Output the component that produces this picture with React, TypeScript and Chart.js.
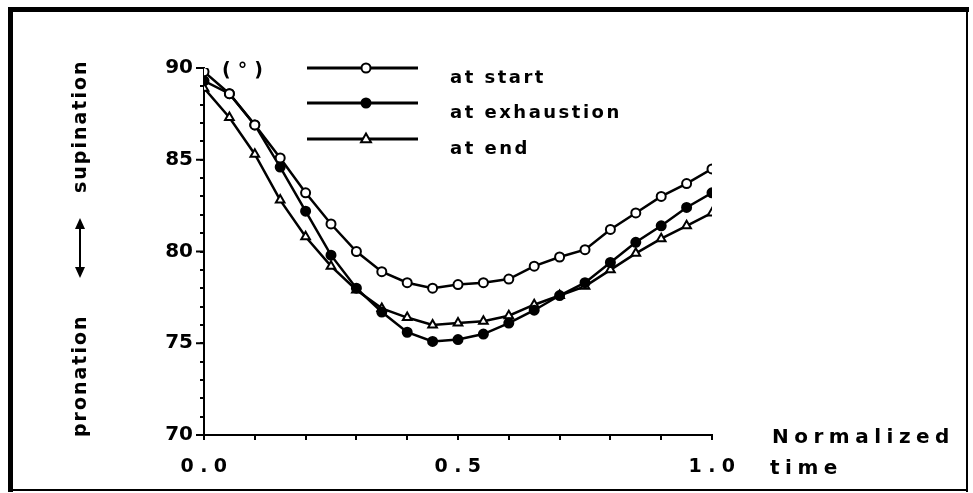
import React, { useEffect, useRef } from 'react';
import { Chart, registerables } from 'chart.js';

Chart.register(...registerables);

const times = [0, 0.05, 0.1, 0.15, 0.2, 0.25, 0.3, 0.35, 0.4, 0.45, 0.5, 0.55, 0.6, 0.65, 0.7, 0.75, 0.8, 0.85, 0.9, 0.95, 1.0];
const atStart = [89.8, 88.6, 86.9, 85.1, 83.2, 81.5, 80.0, 78.9, 78.3, 78.0, 78.2, 78.3, 78.5, 79.2, 79.7, 80.1, 81.2, 82.1, 83.0, 83.7, 84.5];
const atExhaustion = [89.3, 88.6, 86.9, 84.6, 82.2, 79.8, 78.0, 76.7, 75.6, 75.1, 75.2, 75.5, 76.1, 76.8, 77.6, 78.3, 79.4, 80.5, 81.4, 82.4, 83.2];
const atEnd = [88.9, 87.3, 85.3, 82.8, 80.8, 79.2, 77.9, 76.9, 76.4, 76.0, 76.1, 76.2, 76.5, 77.1, 77.6, 78.1, 79.0, 79.9, 80.7, 81.4, 82.1];

const seriesLabels = ['at start', 'at exhaustion', 'at end'];
const yMajorTicks = [70, 75, 80, 85, 90];
const xTickValues = [0, 0.5, 1.0];
const xTickLabels = ['0.0', '0.5', '1.0'];
const xTitleLines = ['Normalized', 'time'];
const yTitleParts = ['pronation', 'supination'];
const unitLabel = '(°)';

const FONT = '"DejaVu Sans", Arial, sans-serif';

function drawMarker(ctx: CanvasRenderingContext2D, style: string, x: number, y: number, r: number) {
  ctx.beginPath();
  if (style === 'triangle') {
    ctx.moveTo(x, y - r * 1.2);
    ctx.lineTo(x + r * 1.1, y + r * 0.7);
    ctx.lineTo(x - r * 1.1, y + r * 0.7);
    ctx.closePath();
    ctx.fillStyle = '#fff';
  } else {
    ctx.arc(x, y, r, 0, Math.PI * 2);
    ctx.fillStyle = style === 'filled' ? '#000' : '#fff';
  }
  ctx.fill();
  ctx.lineWidth = 2;
  ctx.strokeStyle = '#000';
  ctx.stroke();
}

const decoPlugin = {
  id: 'deco',
  afterDraw(chart: any) {
    const ctx: CanvasRenderingContext2D = chart.ctx;
    const xs = chart.scales.x;
    const ys = chart.scales.y;
    const area = chart.chartArea;
    ctx.save();
    // frame
    ctx.fillStyle = '#000';
    ctx.fillRect(8, 7, 5, 485);
    ctx.fillRect(8, 7, 961, 5);
    ctx.fillRect(966, 7, 2, 485);
    ctx.fillRect(8, 489, 960, 2);

    // longer major y ticks
    ctx.strokeStyle = '#000';
    ctx.lineWidth = 2;
    yMajorTicks.forEach((v) => {
      const py = ys.getPixelForValue(v);
      ctx.beginPath();
      ctx.moveTo(area.left - 8, py);
      ctx.lineTo(area.left, py);
      ctx.stroke();
    });

    // x tick labels
    ctx.fillStyle = '#000';
    ctx.font = `bold 19px ${FONT}`;
    (ctx as any).letterSpacing = '6.5px';
    ctx.textAlign = 'center';
    ctx.textBaseline = 'alphabetic';
    xTickValues.forEach((v, i) => {
      const px = xs.getPixelForValue(v);
      ctx.fillText(xTickLabels[i], px + 3, 472);
    });

    // x title
    ctx.textAlign = 'left';
    ctx.font = `bold 20px ${FONT}`;
    (ctx as any).letterSpacing = '5.5px';
    ctx.fillText(xTitleLines[0], 772, 443);
    ctx.fillText(xTitleLines[1], 770, 474);

    // unit label
    ctx.font = `bold 19px ${FONT}`;
    (ctx as any).letterSpacing = '7px';
    ctx.fillText(unitLabel, 222, 76);

    // y title (rotated)
    ctx.font = `bold 19px ${FONT}`;
    (ctx as any).letterSpacing = '2px';
    ctx.save();
    ctx.translate(86, 437);
    ctx.rotate(-Math.PI / 2);
    ctx.fillText(yTitleParts[0], 0, 0);
    ctx.restore();
    ctx.save();
    ctx.translate(86, 193);
    ctx.rotate(-Math.PI / 2);
    ctx.fillText(yTitleParts[1], 0, 0);
    ctx.restore();

    // double arrow
    ctx.lineWidth = 2;
    ctx.beginPath();
    ctx.moveTo(80, 224);
    ctx.lineTo(80, 272);
    ctx.stroke();
    ctx.beginPath();
    ctx.moveTo(80, 218);
    ctx.lineTo(75, 229);
    ctx.lineTo(85, 229);
    ctx.closePath();
    ctx.fill();
    ctx.beginPath();
    ctx.moveTo(80, 278);
    ctx.lineTo(75, 267);
    ctx.lineTo(85, 267);
    ctx.closePath();
    ctx.fill();

    // legend
    const rows = [68, 103, 139];
    const styles = ['open', 'filled', 'triangle'];
    rows.forEach((ry, i) => {
      ctx.strokeStyle = '#000';
      ctx.lineWidth = 3;
      ctx.beginPath();
      ctx.moveTo(307, ry);
      ctx.lineTo(418, ry);
      ctx.stroke();
      drawMarker(ctx, styles[i], 366, ry, 4.5);
      ctx.fillStyle = '#000';
      ctx.font = `bold 18px ${FONT}`;
      (ctx as any).letterSpacing = '2.5px';
      ctx.textAlign = 'left';
      ctx.fillText(seriesLabels[i], 450, ry + 15);
    });
    (ctx as any).letterSpacing = '0px';
    ctx.restore();
  },
};

export default function App() {
  const ref = useRef<HTMLCanvasElement>(null);
  useEffect(() => {
    if (!ref.current) return;
    const mk = (arr: number[]) => arr.map((y, i) => ({ x: times[i], y }));
    const chart = new Chart(ref.current, {
      type: 'line',
      data: {
        datasets: [
          {
            label: seriesLabels[0],
            data: mk(atStart),
            borderColor: '#000',
            borderWidth: 2.5,
            pointStyle: 'circle',
            pointRadius: 4.5,
            pointBorderWidth: 2,
            pointBackgroundColor: '#fff',
            pointBorderColor: '#000',
            tension: 0,
          },
          {
            label: seriesLabels[1],
            data: mk(atExhaustion),
            borderColor: '#000',
            borderWidth: 2.5,
            pointStyle: 'circle',
            pointRadius: 4.5,
            pointBorderWidth: 2,
            pointBackgroundColor: '#000',
            pointBorderColor: '#000',
            tension: 0,
          },
          {
            label: seriesLabels[2],
            data: mk(atEnd),
            borderColor: '#000',
            borderWidth: 2.5,
            pointStyle: 'triangle',
            pointRadius: 5,
            pointBorderWidth: 2,
            pointBackgroundColor: '#fff',
            pointBorderColor: '#000',
            tension: 0,
          },
        ],
      },
      options: {
        responsive: false,
        animation: false,
        devicePixelRatio: 1,
        layout: { padding: { top: 68, right: 261, left: 0, bottom: 0 } },
        plugins: { legend: { display: false }, tooltip: { enabled: false } },
        scales: {
          x: {
            type: 'linear',
            min: 0,
            max: 1,
            afterFit: (s: any) => {
              s.height = 58;
            },
            ticks: { display: false, stepSize: 0.1 },
            grid: { drawOnChartArea: false, drawTicks: true, tickLength: 5, color: '#000', lineWidth: 2 },
            border: { display: true, color: '#000', width: 2 },
          },
          y: {
            type: 'linear',
            min: 70,
            max: 90,
            afterFit: (s: any) => {
              s.width = 204;
            },
            ticks: {
              stepSize: 1,
              autoSkip: false,
              padding: 7,
              color: '#000',
              font: { family: FONT, size: 20, weight: 'bold' },
              callback: (v: any) => (Number(v) % 5 === 0 ? String(v) : ''),
            },
            grid: { drawOnChartArea: false, drawTicks: true, tickLength: 4, color: '#000', lineWidth: 2 },
            border: { display: true, color: '#000', width: 2 },
          },
        },
      },
      plugins: [decoPlugin],
    });
    return () => chart.destroy();
  }, []);
  return (
    <div style={{ position: 'absolute', left: 0, top: 0, width: 973, height: 493, background: '#fff' }}>
      <canvas ref={ref} width={973} height={493} style={{ display: 'block', width: 973, height: 493 }} />
    </div>
  );
}
